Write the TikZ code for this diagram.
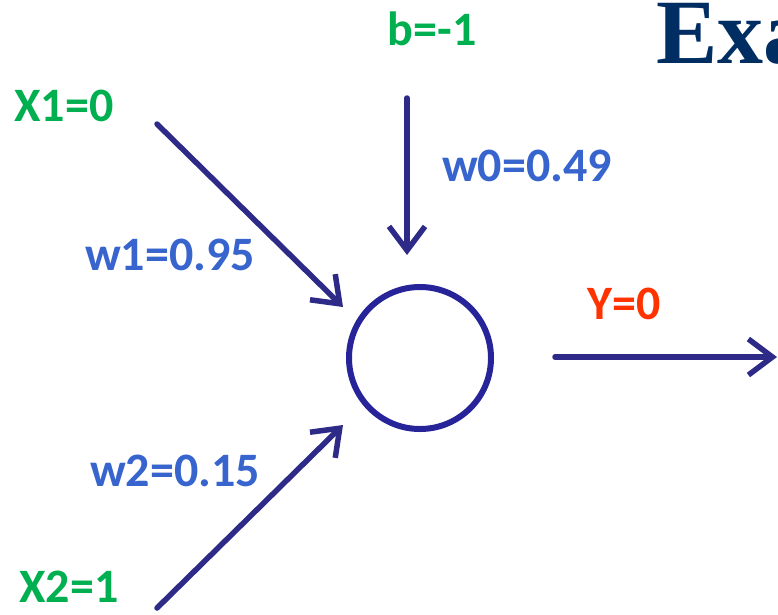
\documentclass[tikz,border=0pt]{standalone}
\usepackage{fontspec}
\setmainfont{Carlito}
\newfontfamily\titlefont{Liberation Serif}
\usetikzlibrary{arrows.meta}
\definecolor{lblgreen}{RGB}{0,176,80}
\definecolor{lblblue}{RGB}{55,100,205}
\definecolor{lblred}{RGB}{255,51,0}
\definecolor{arrnavy}{RGB}{46,42,135}
\definecolor{titlenavy}{RGB}{0,45,98}
\tikzset{
  lbl/.style={font=\bfseries\fontsize{48}{52}\selectfont, inner sep=0pt, anchor=center},
  inlbl/.style={lbl, text=lblgreen},
  wlbl/.style={lbl, text=lblblue},
  outlbl/.style={lbl, text=lblred},
  conn/.style={draw=arrnavy, line width=5.5pt, line cap=round,
    -{Straight Barb[length=24pt, width=36pt, line width=5.5pt]}},
  neuron/.style={circle, draw=arrnavy!85!blue, line width=6pt, minimum size=142pt, inner sep=0pt}
}
\begin{document}
\begin{tikzpicture}[x=1pt, y=-1pt]
\useasboundingbox (0,0) rectangle (778,614);
\fill[white] (0,0) rectangle (778,614);
% title
\node[font=\titlefont\bfseries\fontsize{92}{96}\selectfont, text=titlenavy, anchor=base west, inner sep=0pt] (title) at (656,63) {Exa};
% neuron
\node[neuron] (n) at (420,358) {};
% coordinates
\coordinate (x1s) at (157,124);
\coordinate (x1e) at (343,307);
\coordinate (x2s) at (157,608);
\coordinate (x2e) at (343,425);
\coordinate (bs) at (407,98);
\coordinate (be) at (407,255);
\coordinate (ys) at (555,357);
\coordinate (ye) at (777,357);
% connectors
\draw[conn] (x1s) -- (x1e);
\draw[conn] (x2s) -- (x2e);
\draw[conn] (bs) -- (be);
\draw[conn] (ys) -- (ye);
% labels
\node[inlbl] (lx1) at (64,106) {X1=0};
\node[inlbl] (lx2) at (69,587) {X2=1};
\node[inlbl] (lb) at (432,29) {b=-1};
\node[wlbl] (lw1) at (170,255) {w1=0.95};
\node[wlbl] (lw2) at (175,471) {w2=0.15};
\node[wlbl] (lw0) at (527,166) {w0=0.49};
\node[outlbl] (ly) at (624,304) {Y=0};
\end{tikzpicture}
\end{document}
